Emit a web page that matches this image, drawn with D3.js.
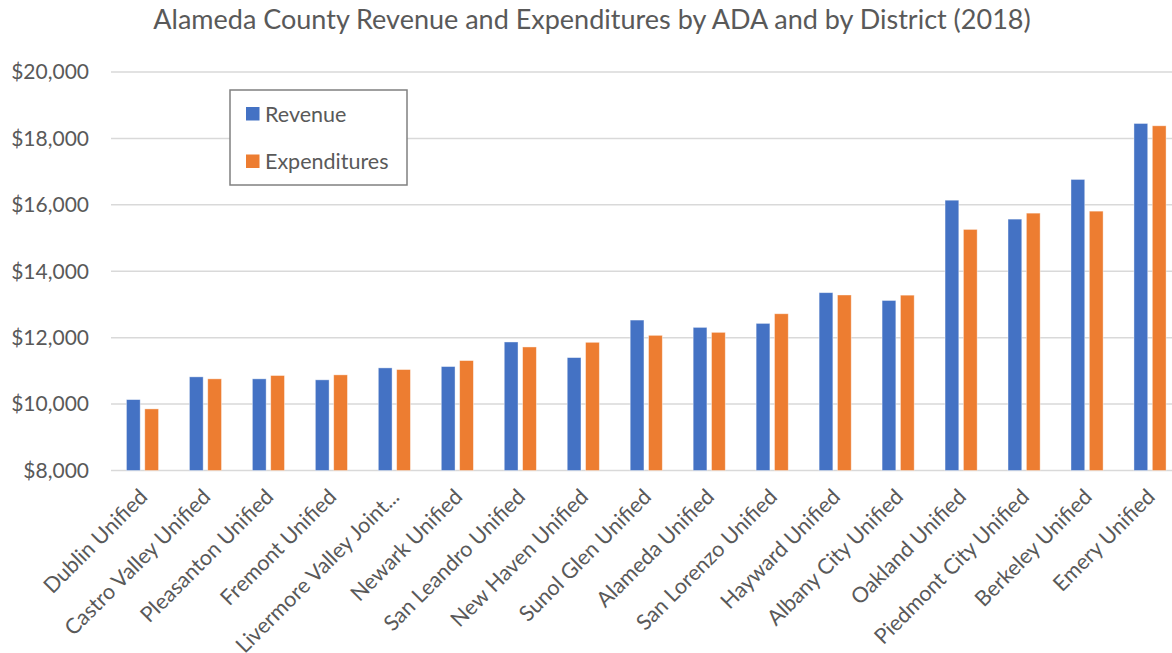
<!DOCTYPE html>
<html>
<head>
<meta charset="utf-8">
<script src="https://cdn.jsdelivr.net/npm/d3@7"></script>
<style>
  body { margin:0; background:#fff; }
  svg { display:block; font-family: Lato, "Open Sans", sans-serif; }
</style>
</head>
<body>
<div id="chart"></div>
<script>
// districts, sorted as in the original chart
var districts = ["Dublin Unified","Castro Valley Unified","Pleasanton Unified","Fremont Unified",
  "Livermore Valley Joint...","Newark Unified","San Leandro Unified","New Haven Unified",
  "Sunol Glen Unified","Alameda Unified","San Lorenzo Unified","Hayward Unified",
  "Albany City Unified","Oakland Unified","Piedmont City Unified","Berkeley Unified","Emery Unified"];
var revenue = [10135,10820,10760,10730,11090,11130,11870,11400,12530,12310,12430,13355,13120,16140,15570,16765,18450];
var expenditures = [9855,10760,10860,10880,11040,11310,11720,11860,12070,12160,12720,13285,13280,15260,15750,15810,18380];
var seriesNames = ["Revenue","Expenditures"];
var colors = ["#4472C4","#ED7D31"];
var yTicks = [8000,10000,12000,14000,16000,18000,20000];

var width=1172, height=653;
var plotL=111, plotR=1181.5, plotT=72, plotB=470.5;

var svg = d3.select("#chart").append("svg")
    .attr("width",width)
    .attr("height",height);

svg.append("text")
    .attr("x",592)
    .attr("y",29)
    .attr("text-anchor","middle")
    .attr("font-size","27px")
    .attr("fill","#595959")
    .text("Alameda County Revenue and Expenditures by ADA and by District (2018)");

var y = d3.scaleLinear().domain([8000,20000]).range([plotB,plotT]);
var x0 = d3.scaleBand().domain(districts).range([plotL,plotR]).paddingInner(0.49).paddingOuter(0.245);
var x1 = d3.scaleBand().domain(seriesNames).range([0,x0.bandwidth()]).paddingInner(0.25);

// gridlines
svg.append("g").selectAll("line")
    .data(yTicks)
    .enter()
    .append("line")
    .attr("x1",plotL)
    .attr("x2",plotR)
    .attr("y1",function(d){return y(d);})
    .attr("y2",function(d){return y(d);})
    .attr("stroke","#D9D9D9")
    .attr("stroke-width",1.5);

// y labels
var fmt = d3.format("$,");
svg.append("g").selectAll("text")
    .data(yTicks)
    .enter()
    .append("text")
    .attr("x",89)
    .attr("y",function(d){return y(d);})
    .attr("dy","0.35em")
    .attr("text-anchor","end")
    .attr("font-size","21px")
    .attr("fill","#595959")
    .text(function(d){return fmt(d);});

// bars
var rows = districts.map(function(d,i){ return {name:d, values:[revenue[i],expenditures[i]]}; });
var groups = svg.append("g").selectAll("g")
    .data(rows)
    .enter()
    .append("g")
    .attr("transform",function(d){return "translate("+x0(d.name)+",0)";});

groups.selectAll("rect")
    .data(function(d){return d.values.map(function(v,j){return {s:seriesNames[j],v:v,c:colors[j]};});})
    .enter()
    .append("rect")
    .attr("x",function(d){return x1(d.s);})
    .attr("width",x1.bandwidth())
    .attr("y",function(d){return y(d.v);})
    .attr("height",function(d){return y(8000)-y(d.v);})
    .attr("fill",function(d){return d.c;})
    .attr("stroke","#fff")
    .attr("stroke-opacity",0.5)
    .attr("stroke-width",0.8);

// x labels, rotated
svg.append("g").selectAll("text")
    .data(districts)
    .enter()
    .append("text")
    .attr("transform",function(d){
        var cx = x0(d)+x0.bandwidth()/2 + 1;
        return "translate("+cx+",493) rotate(-45)";
    })
    .attr("text-anchor","end")
    .attr("dy","0.35em")
    .attr("font-size","21.5px")
    .attr("fill","#595959")
    .text(function(d){return d;});

// legend
var lg = svg.append("g");
lg.append("rect")
    .attr("x",230).attr("y",90)
    .attr("width",177).attr("height",95)
    .attr("fill","#fff")
    .attr("stroke","#808080")
    .attr("stroke-width",1.5);
seriesNames.forEach(function(s,i){
    lg.append("rect")
        .attr("x",246).attr("y",107+i*47.5)
        .attr("width",13.5).attr("height",13.5)
        .attr("fill",colors[i]);
    lg.append("text")
        .attr("x",265).attr("y",114+i*47.5)
        .attr("dy","0.35em")
        .attr("font-size","21.5px")
        .attr("fill","#595959")
        .text(s);
});
</script>
</body>
</html>
